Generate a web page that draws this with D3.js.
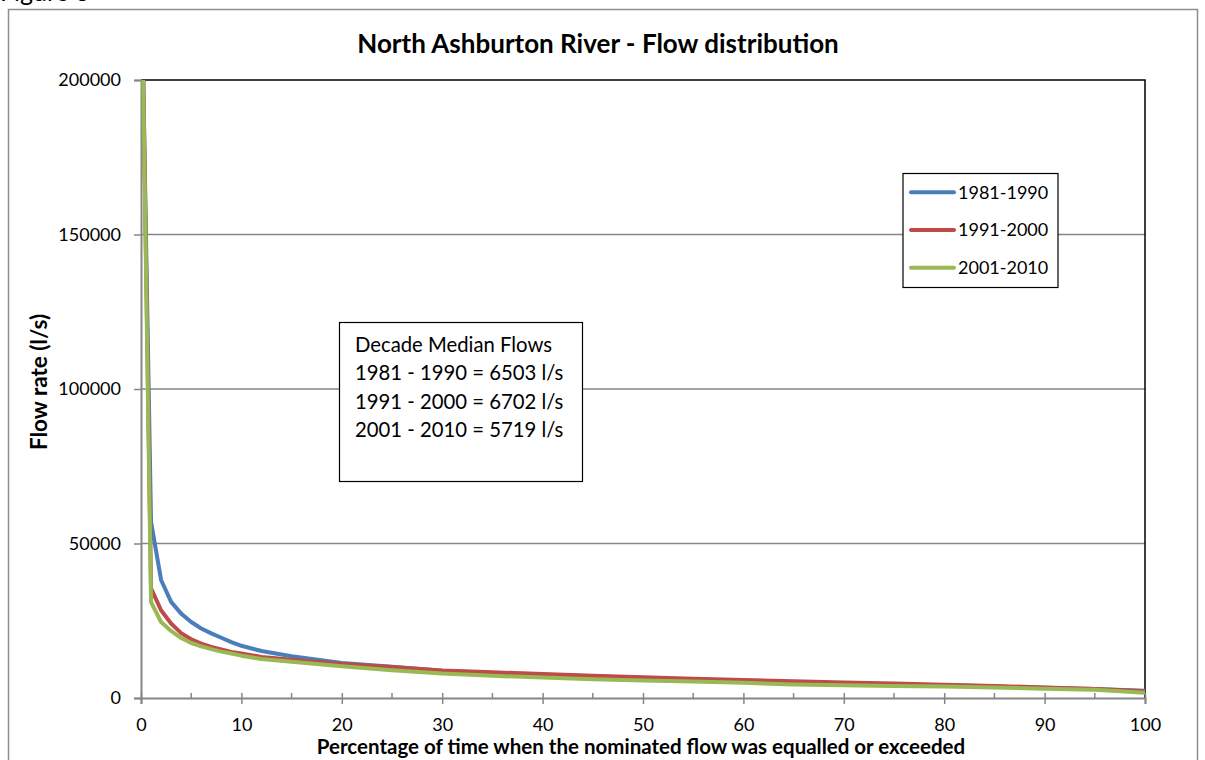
<!DOCTYPE html>
<html>
<head>
<meta charset="utf-8">
<script src="https://cdn.jsdelivr.net/npm/d3@7"></script>
<style>
  html, body { margin: 0; padding: 0; background: #fff; }
  svg { display: block; font-family: Lato, "Open Sans", sans-serif; }
</style>
</head>
<body>
<svg id="chart" width="1205" height="760"></svg>
<script>
// Percentage of time the flow was equalled or exceeded
const percent = [0, 1, 2, 3, 4, 5, 6, 7, 8, 9, 10, 12, 15, 20, 25, 30, 35, 40, 45, 50, 55, 60, 65, 70, 75, 80, 85, 90, 95, 100];

// Flow rate (l/s) for each decade
const flow1981 = [240000, 57000, 38200, 31100, 27300, 24600, 22500, 20900, 19500, 18100, 16900, 15200, 13500, 11300, 10100, 8800, 8100, 7500, 7000, 6500, 6000, 5600, 5100, 4700, 4400, 4100, 3700, 3300, 2950, 2350];
const flow1991 = [250000, 35500, 28400, 24100, 21000, 19000, 17600, 16500, 15700, 14900, 14400, 13300, 12400, 11000, 10000, 8900, 8300, 7800, 7200, 6700, 6200, 5800, 5400, 5000, 4700, 4300, 3900, 3400, 2900, 2200];
const flow2001 = [245000, 31000, 24600, 21700, 19400, 17800, 16700, 15800, 15000, 14400, 13700, 12600, 11700, 10300, 9000, 7900, 7200, 6600, 6100, 5700, 5300, 4900, 4400, 4150, 3900, 3700, 3400, 3000, 2700, 1700];

const seriesNames = ["1981-1990", "1991-2000", "2001-2010"];
const seriesColors = ["#4a7ebb", "#be4b48", "#98b954"];

const yTicks = [0, 50000, 100000, 150000, 200000];
const xTicks = [0, 10, 20, 30, 40, 50, 60, 70, 80, 90, 100];
const xMinorTicks = [5, 15, 25, 35, 45, 55, 65, 75, 85, 95];

const medianLines = [
  "Decade Median Flows",
  "1981 - 1990 = 6503 l/s",
  "1991 - 2000 = 6702 l/s",
  "2001 - 2010 = 5719 l/s"
];

const svg = d3.select("#chart");
const W = 1205, H = 760;
const plot = { left: 141, right: 1145, top: 80, bottom: 698 };
const axisGrey = "#868686";

const x = d3.scaleLinear().domain([0, 100]).range([plot.left, plot.right]);
const y = d3.scaleLinear().domain([0, 200000]).range([plot.bottom, plot.top]);

svg.append("rect").attr("width", W).attr("height", H).attr("fill", "#fff");

// Caption above the chart frame
svg.append("text")
  .attr("x", 0).attr("y", 1)
  .attr("font-size", 25)
  .attr("fill", "#000")
  .text("Figure 3");

// Chart frame
svg.append("rect")
  .attr("x", 8.5).attr("y", 9.5)
  .attr("width", 1189).attr("height", 770)
  .attr("fill", "none")
  .attr("stroke", "#8e8e8e")
  .attr("stroke-width", 1.5);

// Title
svg.append("text")
  .attr("x", 598).attr("y", 53)
  .attr("text-anchor", "middle")
  .attr("font-size", 26)
  .attr("font-weight", "bold")
  .text("North Ashburton River - Flow distribution");

// Horizontal gridlines
svg.append("g")
  .selectAll("line")
  .data(yTicks.filter(d => d > 0 && d < 200000))
  .join("line")
  .attr("x1", plot.left).attr("x2", plot.right)
  .attr("y1", d => y(d)).attr("y2", d => y(d))
  .attr("stroke", axisGrey)
  .attr("stroke-width", 1.5);

// Plot area top and right edges
svg.append("path")
  .attr("d", `M${plot.left},${y(200000)}H${x(100)}V${y(0)}`)
  .attr("fill", "none")
  .attr("stroke", "#000")
  .attr("stroke-width", 1.5);

// Y axis
const yAxis = svg.append("g")
  .attr("transform", `translate(${plot.left},0)`)
  .call(d3.axisLeft(y).tickValues(yTicks).tickSize(7).tickPadding(13).tickFormat(d3.format("d")));
yAxis.select(".domain").attr("stroke", axisGrey).attr("stroke-width", 2);
yAxis.selectAll(".tick line").attr("stroke", axisGrey).attr("stroke-width", 1.5);
yAxis.selectAll(".tick text")
  .attr("font-size", 18)
  .attr("font-family", "Lato, sans-serif")
  .attr("fill", "#000");

// X axis: major ticks cross the axis line, minor ticks sit inside
const xAxis = svg.append("g")
  .attr("transform", `translate(0,${plot.bottom})`)
  .call(d3.axisBottom(x).tickValues(xTicks).tickSize(6).tickPadding(14).tickFormat(d3.format("d")));
xAxis.select(".domain").attr("stroke", axisGrey).attr("stroke-width", 2);
xAxis.selectAll(".tick line").attr("y1", -5).attr("stroke", axisGrey).attr("stroke-width", 1.5);
xAxis.selectAll(".tick text")
  .attr("font-size", 18)
  .attr("font-family", "Lato, sans-serif")
  .attr("fill", "#000");
xAxis.append("g")
  .selectAll("line")
  .data(xMinorTicks)
  .join("line")
  .attr("x1", d => x(d)).attr("x2", d => x(d))
  .attr("y1", -5).attr("y2", 0)
  .attr("stroke", axisGrey)
  .attr("stroke-width", 1.5);

// Axis titles
svg.append("text")
  .attr("x", 641).attr("y", 754)
  .attr("text-anchor", "middle")
  .attr("font-size", 20.5)
  .attr("font-weight", "bold")
  .text("Percentage of time when the nominated flow was equalled or exceeded");

svg.append("text")
  .attr("transform", "translate(47,382) rotate(-90)")
  .attr("text-anchor", "middle")
  .attr("font-size", 22.5)
  .attr("font-weight", "bold")
  .text("Flow rate (l/s)");

// Flow duration curves, clipped to the plot area
svg.append("clipPath").attr("id", "plot-clip")
  .append("rect")
  .attr("x", plot.left).attr("y", plot.top)
  .attr("width", plot.right - plot.left).attr("height", plot.bottom - plot.top);

const series = [flow1981, flow1991, flow2001].map((values, i) => ({
  name: seriesNames[i],
  color: seriesColors[i],
  points: percent.map((p, j) => [p, values[j]])
}));

const line = d3.line().x(d => x(d[0])).y(d => y(d[1]));

svg.append("g")
  .attr("clip-path", "url(#plot-clip)")
  .selectAll("path")
  .data(series)
  .join("path")
  .attr("d", d => line(d.points))
  .attr("fill", "none")
  .attr("stroke", d => d.color)
  .attr("stroke-width", 4)
  .attr("stroke-linejoin", "round");

// Legend
const legend = svg.append("g");
legend.append("rect")
  .attr("x", 903).attr("y", 173.5)
  .attr("width", 155).attr("height", 114)
  .attr("fill", "#fff")
  .attr("stroke", "#000")
  .attr("stroke-width", 1.2);
const legendItems = legend.selectAll("g.item")
  .data(series)
  .join("g")
  .attr("class", "item")
  .attr("transform", (d, i) => `translate(0,${192.3 + i * 37.7})`);
legendItems.append("line")
  .attr("x1", 911).attr("x2", 954)
  .attr("stroke", d => d.color)
  .attr("stroke-width", 4)
  .attr("stroke-linecap", "round");
legendItems.append("text")
  .attr("x", 958).attr("dy", "0.35em")
  .attr("font-size", 18)
  .text(d => d.name);

// Median flow note
const note = svg.append("g");
note.append("rect")
  .attr("x", 339.5).attr("y", 322.5)
  .attr("width", 243).attr("height", 159)
  .attr("fill", "#fff")
  .attr("stroke", "#000")
  .attr("stroke-width", 1.2);
note.selectAll("text")
  .data(medianLines)
  .join("text")
  .attr("x", 355)
  .attr("y", (d, i) => 352 + i * 28.3)
  .attr("font-size", 20.3)
  .text(d => d);
</script>
</body>
</html>
